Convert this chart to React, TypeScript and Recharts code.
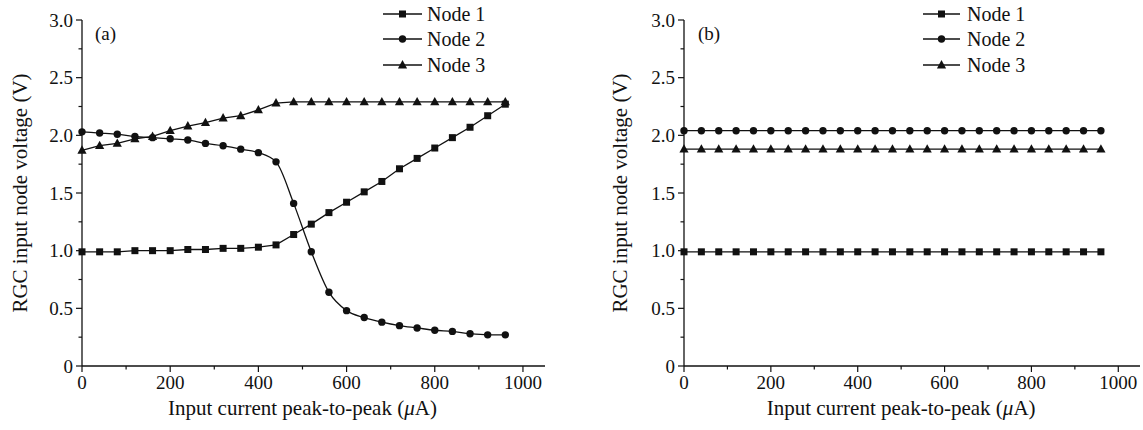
import React from "react";
import { LineChart, Line, XAxis, YAxis } from "recharts";

// input current peak-to-peak (uA), same sampling in both panels
const current = [
  0, 40, 80, 120, 160, 200, 240, 280, 320, 360, 400, 440, 480, 520, 560, 600,
  640, 680, 720, 760, 800, 840, 880, 920, 960,
];

// panel (a)
const aNode1 = [
  0.99, 0.99, 0.99, 1.0, 1.0, 1.0, 1.01, 1.01, 1.02, 1.02, 1.03, 1.05, 1.14,
  1.23, 1.33, 1.42, 1.51, 1.6, 1.71, 1.8, 1.89, 1.98, 2.07, 2.17, 2.27,
];
const aNode2 = [
  2.03, 2.02, 2.01, 1.99, 1.98, 1.97, 1.96, 1.93, 1.91, 1.88, 1.85, 1.77, 1.41,
  0.99, 0.64, 0.48, 0.42, 0.38, 0.35, 0.33, 0.31, 0.3, 0.28, 0.27, 0.27,
];
const aNode3 = [
  1.87, 1.91, 1.93, 1.97, 1.99, 2.04, 2.08, 2.11, 2.15, 2.17, 2.22, 2.28, 2.29,
  2.29, 2.29, 2.29, 2.29, 2.29, 2.29, 2.29, 2.29, 2.29, 2.29, 2.29, 2.29,
];

// panel (b)
const bNode1 = [
  0.99, 0.99, 0.99, 0.99, 0.99, 0.99, 0.99, 0.99, 0.99, 0.99, 0.99, 0.99, 0.99,
  0.99, 0.99, 0.99, 0.99, 0.99, 0.99, 0.99, 0.99, 0.99, 0.99, 0.99, 0.99,
];
const bNode2 = [
  2.04, 2.04, 2.04, 2.04, 2.04, 2.04, 2.04, 2.04, 2.04, 2.04, 2.04, 2.04, 2.04,
  2.04, 2.04, 2.04, 2.04, 2.04, 2.04, 2.04, 2.04, 2.04, 2.04, 2.04, 2.04,
];
const bNode3 = [
  1.88, 1.88, 1.88, 1.88, 1.88, 1.88, 1.88, 1.88, 1.88, 1.88, 1.88, 1.88, 1.88,
  1.88, 1.88, 1.88, 1.88, 1.88, 1.88, 1.88, 1.88, 1.88, 1.88, 1.88, 1.88,
];

const seriesNames = ["Node 1", "Node 2", "Node 3"];
const xTicks = [0, 100, 200, 300, 400, 500, 600, 700, 800, 900, 1000];
const yTicks = [0, 0.25, 0.5, 0.75, 1, 1.25, 1.5, 1.75, 2, 2.25, 2.5, 2.75, 3];

const INK = "#111";
const FONT = "'Liberation Serif', 'Times New Roman', serif";

type Shape = "square" | "circle" | "triangle";
const shapes: Shape[] = ["square", "circle", "triangle"];

function Marker({ cx, cy, shape }: { cx: number; cy: number; shape: Shape }) {
  if (shape === "square")
    return <rect x={cx - 3.5} y={cy - 3.5} width={7} height={7} fill={INK} />;
  if (shape === "circle") return <circle cx={cx} cy={cy} r={3.7} fill={INK} />;
  return (
    <polygon
      points={`${cx},${cy - 5} ${cx - 4.6},${cy + 3.4} ${cx + 4.6},${cy + 3.4}`}
      fill={INK}
    />
  );
}

const dotFor = (shape: Shape) => (p: any) =>
  p.cx == null ? (
    <g key={p.index} />
  ) : (
    <Marker key={p.index} cx={p.cx} cy={p.cy} shape={shape} />
  );

function XTick({ x, y, payload }: any) {
  const v = payload.value as number;
  const major = v % 200 === 0;
  return (
    <g>
      <line x1={x} x2={x} y1={y} y2={y + (major ? 6 : 3.5)} stroke={INK} strokeWidth={1.2} />
      {major && (
        <text x={x} y={y + 23} textAnchor="middle" fontSize={19} fontFamily={FONT} fill={INK}>
          {v}
        </text>
      )}
    </g>
  );
}

function YTick({ x, y, payload }: any) {
  const v = payload.value as number;
  const major = (v * 2) % 1 === 0;
  return (
    <g>
      <line x1={x} x2={x - (major ? 6 : 3.5)} y1={y} y2={y} stroke={INK} strokeWidth={1.2} />
      {major && (
        <text x={x - 9} y={y} dy="0.35em" textAnchor="end" fontSize={19} fontFamily={FONT} fill={INK}>
          {v === 0 ? "0" : v.toFixed(1)}
        </text>
      )}
    </g>
  );
}

// x title, centred under 0..1000 with an italic mu
const XTitle = (props: any) => {
  const vb = props.viewBox || {};
  const cx = vb.x + (vb.width * 1000) / 1050 / 2;
  return (
    <text x={cx} y={vb.y + 49} textAnchor="middle" fontSize={21} fontFamily={FONT} fill={INK}>
      Input current peak-to-peak (<tspan fontStyle="italic">{"\u03bc"}</tspan>A)
    </text>
  );
};

function Panel({
  width,
  yWidth,
  right,
  lines,
  smooth,
}: {
  width: number;
  yWidth: number;
  right: number;
  lines: number[][];
  smooth: boolean;
}) {
  const data = current.map((x, i) => ({
    x,
    n1: lines[0][i],
    n2: lines[1][i],
    n3: lines[2][i],
  }));
  return (
    <LineChart width={width} height={430} data={data} margin={{ top: 20, right, bottom: 0, left: 0 }}>
      <XAxis
        dataKey="x"
        type="number"
        domain={[0, 1050]}
        ticks={xTicks}
        interval={0}
        height={64}
        tickSize={0}
        tickMargin={0}
        tickLine={false}
        axisLine={{ stroke: INK, strokeWidth: 1.3 }}
        tick={<XTick />}
        label={{ content: XTitle }}
      />
      <YAxis
        type="number"
        domain={[0, 3]}
        ticks={yTicks}
        interval={0}
        width={yWidth}
        tickSize={0}
        tickMargin={0}
        tickLine={false}
        axisLine={{ stroke: INK, strokeWidth: 1.3 }}
        tick={<YTick />}
        label={{
          value: "RGC input node voltage (V)",
          angle: -90,
          position: "insideLeft",
          offset: 20,
          textAnchor: "middle",
          style: { fontSize: 21, fontFamily: FONT, fill: INK, textAnchor: "middle" },
        }}
      />
      {["n1", "n2", "n3"].map((k, i) => (
        <Line
          key={k}
          dataKey={k}
          name={seriesNames[i]}
          type={smooth && k === "n2" ? "monotone" : "linear"}
          stroke={INK}
          strokeWidth={1.3}
          dot={dotFor(shapes[i])}
          activeDot={false}
          isAnimationActive={false}
        />
      ))}
    </LineChart>
  );
}

function LegendBlock({ x0, x1, tx }: { x0: number; x1: number; tx: number }) {
  const ys = [14, 39, 65];
  return (
    <g>
      {seriesNames.map((n, i) => (
        <g key={n}>
          <line x1={x0} x2={x1} y1={ys[i]} y2={ys[i]} stroke={INK} strokeWidth={1.3} />
          <Marker cx={(x0 + x1) / 2} cy={ys[i]} shape={shapes[i]} />
          <text x={tx} y={ys[i] + 7} fontSize={20} fontFamily={FONT} fill={INK}>
            {n}
          </text>
        </g>
      ))}
    </g>
  );
}

export default function App() {
  return (
    <div style={{ position: "absolute", left: 0, top: 0, width: 1143, height: 430, background: "#fff" }}>
      <div style={{ position: "absolute", left: 0, top: 0 }}>
        <Panel width={570} yWidth={82} right={25} lines={[aNode1, aNode2, aNode3]} smooth />
      </div>
      <div style={{ position: "absolute", left: 600, top: 0 }}>
        <Panel width={543} yWidth={84} right={3} lines={[bNode1, bNode2, bNode3]} smooth={false} />
      </div>
      <svg
        width={1143}
        height={430}
        style={{ position: "absolute", left: 0, top: 0, pointerEvents: "none" }}
      >
        <text x={95} y={40} fontSize={19} fontFamily={FONT} fill={INK}>
          (a)
        </text>
        <text x={698} y={40} fontSize={19} fontFamily={FONT} fill={INK}>
          (b)
        </text>
        <LegendBlock x0={383} x1={422} tx={427} />
        <LegendBlock x0={923} x1={960} tx={967} />
      </svg>
    </div>
  );
}
